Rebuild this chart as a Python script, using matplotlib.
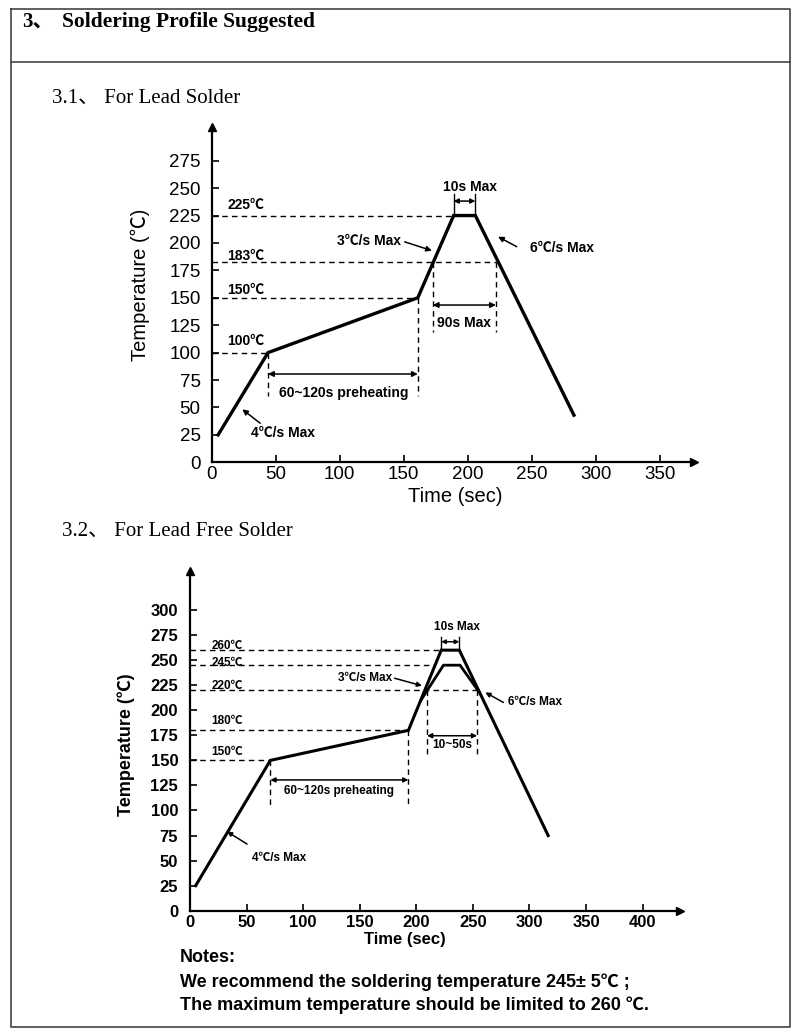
import matplotlib
matplotlib.use('Agg')
import matplotlib.pyplot as plt
from matplotlib.lines import Line2D

plt.rcParams['font.family'] = ['Liberation Sans', 'Noto Sans CJK SC', 'DejaVu Sans']
SANS = ['Liberation Sans', 'Noto Sans CJK SC', 'DejaVu Sans']
SERIF = ['Liberation Serif', 'Noto Sans CJK SC', 'DejaVu Serif']

# ---- 3.1 lead solder profile ----
lead_time = [5, 44, 161, 189, 206, 283]
lead_temp = [25, 100, 150, 225, 225, 43]
lead_levels = [225, 183, 150, 100]
lead_level_end = [189, 222, 161, 44]
lead_level_labels = ['225℃', '183℃', '150℃', '100℃']
lead_label_y = [235, 188, 157, 111]
lead_xticks = list(range(0, 351, 50))
lead_yticks = list(range(0, 276, 25))

# ---- 3.2 lead free solder profile ----
free_time = [5, 71, 193, 222, 238, 316.5]
free_temp = [25, 150, 180, 260, 260, 75]
free_inner_time = [204, 224, 238.6, 255]
free_inner_temp = [210, 245, 245, 219]
free_levels = [260, 245, 220, 180, 150]
free_level_end = [222, 216.6, 253.7, 193, 71]
free_level_labels = ['260℃', '245℃', '220℃', '180℃', '150℃']
free_label_y = [264, 247, 224, 189, 158]
free_xticks = list(range(0, 401, 50))
free_yticks = list(range(0, 301, 25))

W, H = 800, 1034
fig = plt.figure(figsize=(W / 100, H / 100), dpi=100)


def px(x0, y0, x1, y1):
    # pixel box -> figure fraction rect
    return [x0 / W, 1 - y1 / H, (x1 - x0) / W, (y1 - y0) / H]


def fline(xs, ys, **kw):
    fig.add_artist(Line2D([x / W for x in xs], [1 - y / H for y in ys],
                          transform=fig.transFigure, **kw))


# page frame
fline([10.5, 790, 790, 10.5, 10.5], [9, 9, 1027, 1027, 9], color='#444444', lw=1.2)
fline([10.5, 790], [61.5, 61.5], color='#444444', lw=1.2)

fig.text(22 / W, 1 - 22 / H, '3、', family=SERIF, weight='bold', fontsize=15, va='center')
fig.text(62 / W, 1 - 22 / H, 'Soldering Profile Suggested', family=SERIF, weight='bold',
         fontsize=15.5, va='center')
fig.text(52 / W, 1 - 98 / H, '3.1、 For Lead Solder', family=SERIF, fontsize=15, va='center')
fig.text(62 / W, 1 - 531 / H, '3.2、 For Lead Free Solder', family=SERIF, fontsize=15, va='center')


def style_axes(ax, xmax, ymax, xt, yt, fs, weight, ypad):
    ax.set_xlim(0, xmax)
    ax.set_ylim(0, ymax)
    for s in ['top', 'right']:
        ax.spines[s].set_visible(False)
    for s in ['left', 'bottom']:
        ax.spines[s].set_linewidth(1.6)
    ax.set_xticks(xt)
    ax.set_yticks(yt)
    ax.tick_params(direction='in', length=5, width=1.2)
    ax.tick_params(axis='y', pad=ypad)
    ax.tick_params(axis='x', pad=3)
    for lab in ax.get_xticklabels() + ax.get_yticklabels():
        lab.set_fontsize(fs)
        lab.set_fontweight(weight)
    ax.plot(1, 0, '>k', ms=6, transform=ax.transAxes, clip_on=False)
    ax.plot(0, 1, '^k', ms=6, transform=ax.transAxes, clip_on=False)
    ax.patch.set_alpha(0)


def dbl(ax, x0, x1, y, ms):
    ax.annotate('', xy=(x0, y), xytext=(x1, y),
                arrowprops=dict(arrowstyle='<|-|>', color='k', lw=1.1,
                                mutation_scale=ms, shrinkA=0, shrinkB=0))


def arr(ax, head, tail, ms):
    ax.annotate('', xy=head, xytext=tail,
                arrowprops=dict(arrowstyle='-|>', color='k', lw=1.1,
                                mutation_scale=ms, shrinkA=0, shrinkB=0))


dash = dict(color='k', lw=1.0, ls=(0, (4, 3)))

# ================= chart 1 =================
ax1 = fig.add_axes(px(211.7, 126.7, 694, 462.3))
style_axes(ax1, 376.8, 306, lead_xticks, lead_yticks, 13.5, 'normal', 8)
ax1.plot(lead_time, lead_temp, color='k', lw=2.4, solid_joinstyle='miter')
for lv, xe in zip(lead_levels, lead_level_end):
    ax1.plot([0, xe], [lv, lv], **dash)
for lab, ly in zip(lead_level_labels, lead_label_y):
    ax1.text(12, ly, lab, fontsize=10, weight='bold', ha='left', va='center', family=SANS)
# vertical guides
ax1.plot([44, 44], [100, 60], **dash)
ax1.plot([161, 161], [150, 60], **dash)
ax1.plot([172.7, 172.7], [183, 119], **dash)
ax1.plot([222, 222], [183, 119], **dash)
ax1.plot([189, 189], [225, 245], color='k', lw=1.0)
ax1.plot([206, 206], [225, 245], color='k', lw=1.0)
dbl(ax1, 44, 161, 80.5, 8)
dbl(ax1, 172.7, 222, 143.4, 8)
dbl(ax1, 189, 206, 238.2, 7)
ax1.text(103, 63, '60~120s preheating', fontsize=10, weight='bold', ha='center', va='center')
ax1.text(197.5, 126.7, '90s Max', fontsize=10, weight='bold', ha='center', va='center')
ax1.text(202, 251.3, '10s Max', fontsize=10, weight='bold', ha='center', va='center')
ax1.text(123, 201.8, '3℃/s Max', fontsize=10, weight='bold', ha='center', va='center', family=SANS)
arr(ax1, (172, 193), (150.8, 201), 8)
ax1.text(273.3, 195, '6℃/s Max', fontsize=10, weight='bold', ha='center', va='center', family=SANS)
arr(ax1, (223.7, 205.7), (238.3, 196.6), 8)
ax1.text(56, 26.4, '4℃/s Max', fontsize=10, weight='bold', ha='center', va='center', family=SANS)
arr(ax1, (23.9, 48.3), (37.9, 35.6), 8)
ax1.set_xlabel('Time (sec)', fontsize=14.5)
ax1.set_ylabel('Temperature (℃)', fontsize=14.5, family=SANS)
ax1.xaxis.set_label_coords(0.505, -0.102)
ax1.xaxis.label.set_va('center')
ax1.yaxis.set_label_coords(-0.149, 0.528)
ax1.yaxis.label.set_va('center')

# ================= chart 2 =================
ax2 = fig.add_axes(px(190, 571, 680, 910.7))
style_axes(ax2, 433, 339, free_xticks, free_yticks, 12, 'bold', 8.5)
ax2.plot(free_time, free_temp, color='k', lw=2.2, solid_joinstyle='miter')
ax2.plot(free_inner_time, free_inner_temp, color='k', lw=2.0, solid_joinstyle='miter')
for lv, xe in zip(free_levels, free_level_end):
    ax2.plot([0, xe], [lv, lv], **dash)
for lab, ly in zip(free_level_labels, free_label_y):
    ax2.text(18.7, ly, lab, fontsize=8.5, weight='bold', ha='left', va='center', family=SANS)
ax2.plot([71, 71], [150, 105], **dash)
ax2.plot([193, 193], [180, 105], **dash)
ax2.plot([209.5, 209.5], [220, 156], **dash)
ax2.plot([253.7, 253.7], [220, 156], **dash)
ax2.plot([222, 222], [260, 273], color='k', lw=1.0)
ax2.plot([238, 238], [260, 273], color='k', lw=1.0)
dbl(ax2, 71, 193, 130.5, 7)
dbl(ax2, 209.5, 253.7, 174.6, 7)
dbl(ax2, 222, 238, 268.4, 6)
ax2.text(132, 119.7, '60~120s preheating', fontsize=8.5, weight='bold', ha='center', va='center')
ax2.text(232, 165, '10~50s', fontsize=8.5, weight='bold', ha='center', va='center')
ax2.text(235.7, 282.7, '10s Max', fontsize=8.5, weight='bold', ha='center', va='center')
ax2.text(154.5, 232, '3℃/s Max', fontsize=8.5, weight='bold', ha='center', va='center', family=SANS)
arr(ax2, (205, 224.5), (180.7, 232), 7)
ax2.text(305, 207.8, '6℃/s Max', fontsize=8.5, weight='bold', ha='center', va='center', family=SANS)
arr(ax2, (261, 217.8), (277, 207.8), 7)
ax2.text(79, 52.2, '4℃/s Max', fontsize=8.5, weight='bold', ha='center', va='center', family=SANS)
arr(ax2, (32.7, 79), (50.4, 66.5), 7)
ax2.set_xlabel('Time (sec)', fontsize=12, weight='bold')
ax2.set_ylabel('Temperature (℃)', fontsize=13, weight='bold', family=SANS)
ax2.xaxis.set_label_coords(0.439, -0.085)
ax2.xaxis.label.set_va('center')
ax2.yaxis.set_label_coords(-0.131, 0.489)
ax2.yaxis.label.set_va('center')

# notes
fig.text(180 / W, 1 - 958 / H, 'Notes:', fontsize=13, weight='bold', va='center', family=SANS)
fig.text(180 / W, 1 - 982 / H, 'We recommend the soldering temperature 245± 5℃ ;',
         fontsize=13, weight='bold', va='center', family=SANS)
fig.text(180 / W, 1 - 1005 / H, 'The maximum temperature should be limited to 260 ℃.',
         fontsize=13, weight='bold', va='center', family=SANS)

fig.savefig('out.png', dpi=100)
